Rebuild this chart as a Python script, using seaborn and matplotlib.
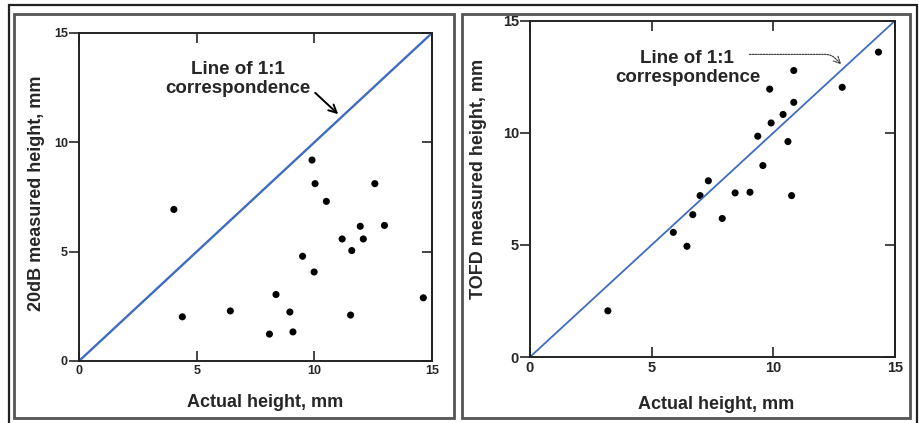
import matplotlib
matplotlib.use("Agg")
import numpy as np
import pandas as pd
import seaborn as sns
from matplotlib import pyplot as plt
from matplotlib.patches import Rectangle

# datos (alturas en mm)
actual_20db = [4.03, 4.39, 6.43, 8.09, 8.37, 8.96, 9.09, 9.50, 9.90, 10.03,
               9.99, 10.51, 11.18, 11.54, 11.59, 11.95, 12.08, 12.57, 12.98, 14.63]
meas_20db = [6.93, 2.02, 2.29, 1.23, 3.04, 2.24, 1.33, 4.79, 9.19, 8.11,
             4.07, 7.30, 5.58, 2.10, 5.05, 6.16, 5.58, 8.11, 6.20, 2.89]

actual_tofd = [3.2, 5.89, 6.45, 6.69, 6.99, 7.33, 7.90, 8.43, 9.04, 9.36,
               9.57, 9.85, 9.91, 10.4, 10.6, 10.75, 10.84, 10.84, 12.83, 14.32]
meas_tofd = [2.06, 5.56, 4.94, 6.35, 7.2, 7.86, 6.18, 7.32, 7.35, 9.85,
             8.54, 11.95, 10.44, 10.82, 9.61, 7.2, 12.78, 11.36, 12.03, 13.6]

line_11 = [0, 15]
ticks = [0, 5, 10, 15]

df20 = pd.DataFrame({'actual': actual_20db, 'medido': meas_20db})
dft = pd.DataFrame({'actual': actual_tofd, 'medido': meas_tofd})
dfl = pd.DataFrame({'x': line_11, 'y': line_11})

sns.set_style('ticks')
plt.rcParams['font.family'] = ['Liberation Sans', 'DejaVu Sans']
plt.rcParams['font.weight'] = 'bold'

fig = plt.figure(figsize=(9.19, 4.23), dpi=100)

# marcos de la figura (como en el original escaneado)
fig.add_artist(Rectangle((9/919, -0.02), 908/919, 1.008, transform=fig.transFigure,
                         fill=False, ec='#222222', lw=1.6))
fig.add_artist(Rectangle((14/919, 5/423), 440/919, 404/423, transform=fig.transFigure,
                         fill=False, ec='#555555', lw=2.0))
fig.add_artist(Rectangle((462/919, 5/423), 448/919, 404/423, transform=fig.transFigure,
                         fill=False, ec='#555555', lw=2.0))

ax1 = fig.add_axes([0.0860, 0.1466, 0.3841, 0.7754])
ax2 = fig.add_axes([0.5767, 0.1560, 0.3972, 0.7950])

blue = '#3f6cc0'

def armar(ax, df, ylabel, tick_fs, xl, yl, lw_linea):
    sns.lineplot(data=dfl, x='x', y='y', ax=ax, color=blue, lw=lw_linea)
    sns.scatterplot(data=df, x='actual', y='medido', ax=ax, color='black',
                    s=26, edgecolor='none')
    ax.set_xlim(0, 15)
    ax.set_ylim(0, 15)
    ax.set_xticks(ticks)
    ax.set_yticks(ticks)
    # eje x: ticks hacia adentro arriba y abajo
    ax.tick_params(axis='x', labelsize=tick_fs, width=1.2, length=7,
                   direction='in', top=True, pad=3)
    # eje y izquierdo: ticks hacia afuera
    ax.tick_params(axis='y', labelsize=tick_fs, width=1.2, length=7,
                   direction='out', right=False, pad=1)
    der = ax.secondary_yaxis('right')
    der.set_yticks(ticks)
    der.tick_params(direction='in', length=7, width=1.2, labelright=False)
    der.spines['right'].set_linewidth(1.4)
    der.spines['right'].set_color('#222222')
    for lab in ax.get_xticklabels() + ax.get_yticklabels():
        lab.set_fontweight('bold')
    for sp in ax.spines.values():
        sp.set_linewidth(1.4)
        sp.set_color('#222222')
    ax.set_xlabel('Actual height, mm', fontsize=13, fontweight='bold')
    ax.set_ylabel(ylabel, fontsize=13, fontweight='bold')
    ax.xaxis.set_label_coords(*xl)
    ax.yaxis.set_label_coords(*yl)

armar(ax1, df20, '20dB measured height, mm', 9, (0.527, -0.10), (-0.096, 0.51), 1.7)
armar(ax2, dft, 'TOFD measured height, mm', 10.5, (0.51, -0.117), (-0.118, 0.53), 1.3)

# texto y flecha del panel izquierdo
ax1.text(6.75, 12.9, 'Line of 1:1\ncorrespondence', ha='center', va='center',
         fontsize=13.5, fontweight='bold', linespacing=1.15)
ax1.annotate('', xy=(11.1, 11.2), xytext=(9.95, 12.35),
             arrowprops=dict(arrowstyle='->', lw=1.4, color='black', mutation_scale=14))

# texto y flecha del panel derecho
ax2.text(6.47, 12.9, 'Line of 1:1\ncorrespondence', ha='center', va='center',
         fontsize=13.5, fontweight='bold', linespacing=1.15)
ax2.annotate('', xy=(12.87, 12.97), xytext=(8.9, 13.5),
             arrowprops=dict(arrowstyle='->', lw=0.8, color='#333333',
                             linestyle=(0, (1.5, 1)), mutation_scale=12,
                             connectionstyle='angle,angleA=0,angleB=135,rad=6'))

fig.savefig('out.png', dpi=100)
